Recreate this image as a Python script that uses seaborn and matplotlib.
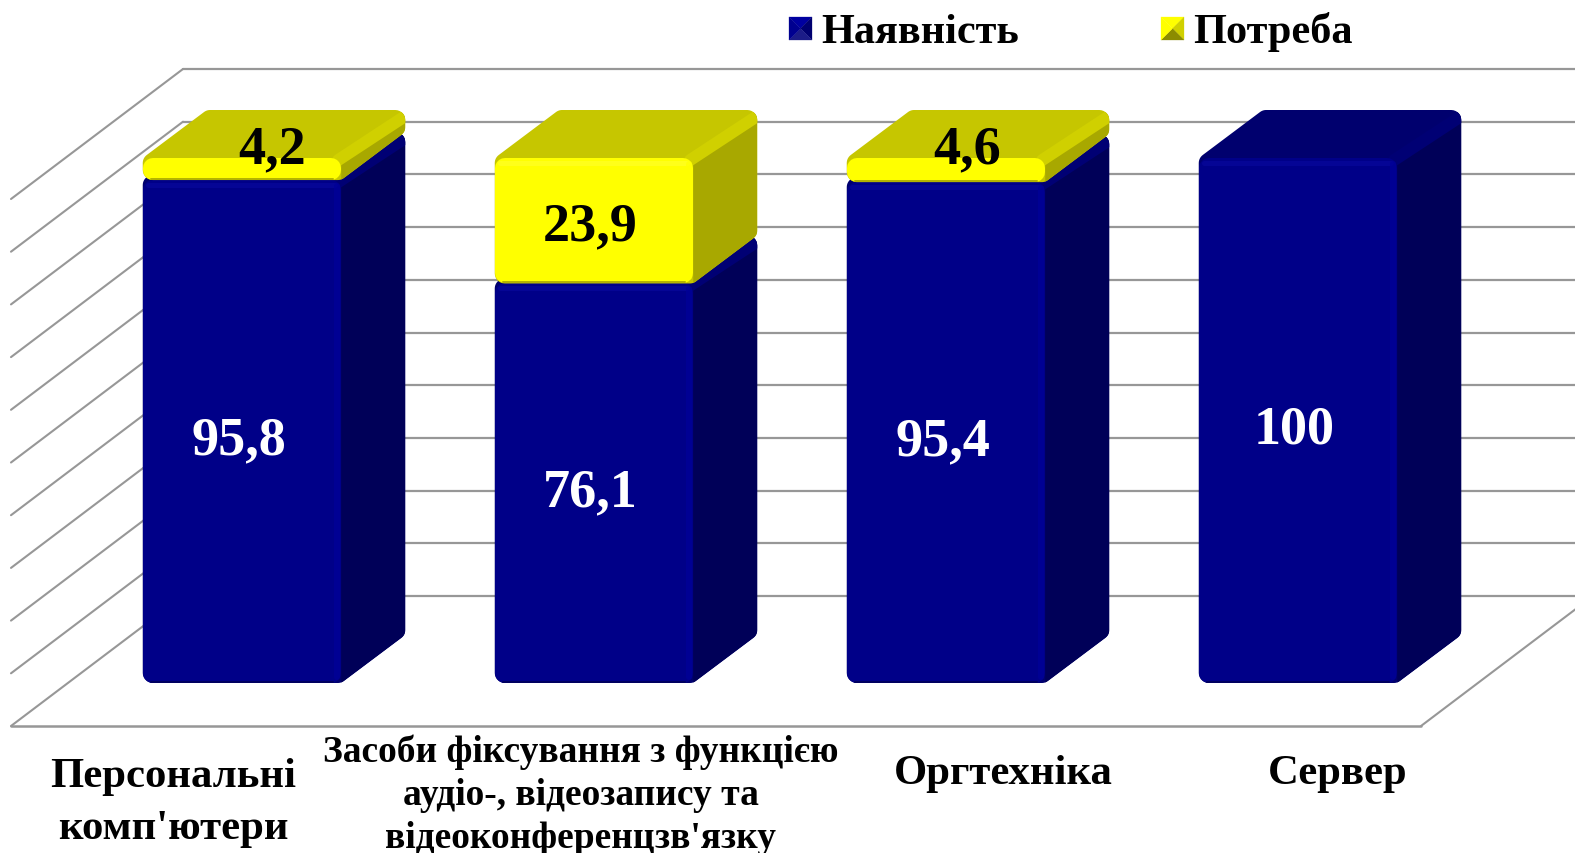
import numpy as np
import pandas as pd
import matplotlib
matplotlib.use("Agg")
import matplotlib.pyplot as plt
import seaborn as sns
from matplotlib.patches import Polygon

# =========================
# DATA
# =========================
categories = ["Персональні\nкомп'ютери",
              "Засоби фіксування з функцією\nаудіо-, відеозапису та\nвідеоконференцзв'язку",
              "Оргтехніка", "Сервер"]
have = [95.8, 76.1, 95.4, 100]
need = [4.2, 23.9, 4.6, 0]
have_labels = ["95,8", "76,1", "95,4", "100"]
need_labels = ["4,2", "23,9", "4,6", ""]
legend_names = ["Наявність", "Потреба"]
grid_ticks = [0, 10, 20, 30, 40, 50, 60, 70, 80, 90, 100]

# =========================
# LAYOUT (reference pixels)
# =========================
W, H = 1575, 854
STEP = 352.0      # px between bars
Y_SCALE = 5.25    # px per value unit
X0, Y0 = 242.0, 684.0   # centre of first bar, bar base
BAR_PX = 198.5
DEPTH = (64.0, 48.0)    # bar depth
WALL = (172.0, 130.0)   # box depth
FLOOR_LEFT, FLOOR_RIGHT, FLOOR_Y = 11.0, 1421.0, 727.0

sns.set_theme(style="white")
plt.rcParams["font.family"] = ["Liberation Serif", "DejaVu Serif"]
plt.rcParams["font.weight"] = "bold"

fig = plt.figure(figsize=(W / 100, H / 100), dpi=100)
ax = fig.add_axes([0, 0, 1, 1])

df = pd.DataFrame({"cat": categories, "have": have, "need": need})
df["total"] = df["have"] + df["need"]

sns.barplot(data=df, x="cat", y="total", color="#FFFF00", saturation=1,
            width=BAR_PX / STEP, ax=ax)
sns.barplot(data=df, x="cat", y="have", color="#000088", saturation=1,
            width=BAR_PX / STEP, ax=ax)
ax.set_xlim(-X0 / STEP, (W - X0) / STEP)
ax.set_ylim((Y0 - H) / Y_SCALE, Y0 / Y_SCALE)
ax.axis("off")

to_px = ax.transData.transform
to_data = ax.transData.inverted().transform


def pt(px_x, px_y):
    # reference pixel (y down) -> data
    return to_data((px_x, H - px_y))


def rounded(points, color, r, z):
    # convex polygon with arcs on its corners, returned so others can clip to it
    p = to_px(np.array(points))
    q = np.roll(p, -1, axis=0) - p
    area = np.sum(p[:, 0] * np.roll(p[:, 1], -1) - np.roll(p[:, 0], -1) * p[:, 1])
    n = np.c_[-q[:, 1], q[:, 0]] / np.hypot(q[:, 0], q[:, 1])[:, None]
    if area < 0:
        n = -n
    n0 = np.roll(n, 1, axis=0)
    centres = p + r * (n + n0) / (1 + np.sum(n * n0, axis=1))[:, None]
    verts = []
    for c, a, b in zip(centres, n0, n):
        # arc from the outward normal of one edge to that of the next
        a1 = np.arctan2(-a[1], -a[0])
        a2 = np.arctan2(-b[1], -b[0])
        d = (a2 - a1 + np.pi) % (2 * np.pi) - np.pi
        for t in np.linspace(0, 1, 8):
            ang = a1 + d * t
            verts.append(c + r * np.array([np.cos(ang), np.sin(ang)]))
    patch = Polygon(to_data(np.array(verts)), closed=True, facecolor=color, edgecolor="none",
                    zorder=z)
    ax.add_patch(patch)
    return patch


def stroke(a, b, color, width, z, alpha=1.0, clip=None):
    line, = ax.plot([a[0], b[0]], [a[1], b[1]], color=color, lw=width * 0.72, alpha=alpha,
                    solid_capstyle="round", zorder=z)
    if clip is not None:
        line.set_clip_path(clip)


# =========================
# BOX (wall and floor lines)
# =========================
line_c = "#979797"
dx_wall = WALL[0] / STEP
dy_wall = WALL[1] / Y_SCALE
fx0 = pt(FLOOR_LEFT, FLOOR_Y)[0]
fx1 = pt(FLOOR_RIGHT, FLOOR_Y)[0]
fy0 = pt(FLOOR_LEFT, FLOOR_Y)[1]
unit = (FLOOR_Y - WALL[1] - 70.0) / 100 / Y_SCALE   # wall px per value, in data units

for t in grid_ticks:
    y_front = fy0 + t * unit
    ax.plot([fx0, fx0 + dx_wall], [y_front, y_front + dy_wall], color=line_c, lw=1.5, zorder=1)
    ax.plot([fx0 + dx_wall, fx1 + dx_wall], [y_front + dy_wall] * 2, color=line_c, lw=1.6, zorder=1)
ax.plot([fx0, fx1], [fy0, fy0], color=line_c, lw=1.8, zorder=1)
ax.plot([fx1, fx1 + dx_wall], [fy0, fy0 + dy_wall], color=line_c, lw=1.5, zorder=1)

# =========================
# 3D BLOCKS built on the seaborn bars
# =========================
dx = DEPTH[0] / STEP
dy = DEPTH[1] / Y_SCALE
sx = 1 / STEP
sy = 1 / Y_SCALE
yellow_bars = ax.containers[0]
blue_bars = ax.containers[1]

BLUE = dict(front="#000088", side="#000058", top="#00006E", hi="#0A0AA0", right="#000098",
            low="#000060", ridge="#000074")
YEL = dict(front="#FFFF00", side="#A8A800", top="#C6C600", hi="#FFFF30", right="#FFFF00",
           low="#B4B400", ridge="#D0D000")


def block(patch, y0, y1, st, z):
    x0 = patch.get_x()
    x1 = x0 + patch.get_width()
    h_px = (y1 - y0) * Y_SCALE
    r = min(10.0, h_px / 2 - 0.5)
    shape = [(x0, y0), (x1, y0), (x1 + dx, y0 + dy), (x1 + dx, y1 + dy), (x0 + dx, y1 + dy), (x0, y1)]
    body = rounded(shape, st["top"], r, z)
    side = Polygon([(x1, y0), (x1 + dx, y0 + dy), (x1 + dx, y1 + dy), (x1, y1)], closed=True,
                   facecolor=st["side"], edgecolor="none", zorder=z + 0.1)
    ax.add_patch(side)
    side.set_clip_path(body)
    # ridge between top and side
    stroke((x1 - 3 * sx, y1 - 2 * sy), (x1 + dx, y1 + dy - 6 * sy), st["ridge"],
           min(12.0, h_px), z + 0.2, clip=body)
    # the seaborn bar itself is the front face, rounded through a thick stroke
    patch.set_bounds(x0 + r * sx, y0 + r * sy, x1 - x0 - 2 * r * sx, y1 - y0 - 2 * r * sy)
    patch.set(edgecolor=st["front"], facecolor=st["front"], linewidth=2 * r * 0.72,
              joinstyle="round", zorder=z + 0.3)
    # bevels
    if h_px > 40:
        stroke((x0 + 5 * sx, y1 - 5 * sy), (x1 - 6 * sx, y1 - 5 * sy), st["hi"], 5, z + 0.4, 0.55)
        stroke((x1 - 4 * sx, y0 + 6 * sy), (x1 - 4 * sx, y1 - 6 * sy), st["right"], 6, z + 0.4, 0.7)
    stroke((x0 + 8 * sx, y0 + 1 * sy), (x1 - 8 * sx, y0 + 1 * sy), st["low"], 2, z + 0.45)


for i in range(len(categories)):
    z = 3 + i * 2
    block(blue_bars[i], 0, have[i], BLUE, z)
    if need[i] > 0:
        block(yellow_bars[i], have[i], have[i] + need[i], YEL, z + 1)
    else:
        yellow_bars[i].set_visible(False)

# =========================
# VALUE LABELS
# =========================
small_shift = {0: 30, 2: 21}    # px, labels of the thin segments sit on the top face
for i in range(len(categories)):
    ax.text(i - 3.5 * sx, have[i] / 2 - 9 * sy, have_labels[i], color="white", fontsize=39,
            ha="center", va="center", zorder=20)
    if i in small_shift:
        ax.text(i + small_shift[i] * sx, 100 + 9 * sy, need_labels[i], color="black", fontsize=39,
                ha="center", va="center", zorder=20)
    elif need[i] > 0:
        ax.text(i - 3.5 * sx, have[i] + need[i] / 2 - 6 * sy, need_labels[i], color="black", fontsize=39,
                ha="center", va="center", zorder=20)

# =========================
# AXIS LABELS
# =========================
label_pos = [(173, 803, 30.8, 1.48), (581, 795, 27, 1.3), (1003, 774, 30.8, 1.2), (1338, 774, 30.7, 1.2)]
for name, (px_x, px_y, size, spacing) in zip(categories, label_pos):
    x, y = pt(px_x, px_y)
    ax.text(x, y, name, fontsize=size, ha="center", va="center", color="black",
            linespacing=spacing, zorder=20)

# =========================
# LEGEND
# =========================
def pyramid(left, top, size, upper, right, lower, side):
    c = (left + size / 2, top + size / 2)
    tl, tr = (left, top), (left + size, top)
    bl, br = (left, top + size), (left + size, top + size)
    for tri, col in [((tl, tr, c), upper), ((tr, br, c), right), ((bl, br, c), lower), ((tl, bl, c), side)]:
        ax.add_patch(Polygon([pt(*p) for p in tri], closed=True, facecolor=col, edgecolor=col,
                             lw=0.2, zorder=20))


pyramid(789, 18, 23, "#0000A0", "#000070", "#1C1C88", "#000090")
pyramid(1161, 18, 23, "#FFFF00", "#D0D000", "#8C8C00", "#FFFF00")
for name, px_x in zip(legend_names, [821, 1193]):
    x, y = pt(px_x, 43)
    ax.text(x, y, name, fontsize=30.4, ha="left", va="baseline", color="black", zorder=20)

fig.savefig("out.png", dpi=100)
